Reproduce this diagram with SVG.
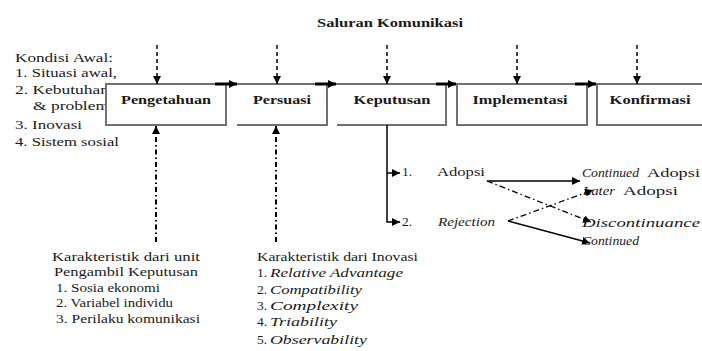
<svg xmlns="http://www.w3.org/2000/svg" width="702" height="351" viewBox="0 0 702 351" font-family="Liberation Serif, DejaVu Serif, serif">
<style>
text{font-size:13.5px;fill:#1a1a1a}
.b{font-weight:bold}
.i{font-style:italic}
.box{fill:none;stroke:#707070;stroke-width:2}
.boxf{fill:#fff;stroke:#707070;stroke-width:2}
.flow{stroke:#000;stroke-width:3;fill:none}
.dash{stroke:#000;stroke-width:1.5;stroke-dasharray:4 3;fill:none}
.dd{stroke:#000;stroke-width:2;stroke-dasharray:5 3 1.5 3;fill:none}
.sl{stroke:#000;stroke-width:1.5;fill:none}
.dd2{stroke:#000;stroke-width:1.3;stroke-dasharray:6 3 1.5 3;fill:none}
</style>
<defs>
<marker id="ah" viewBox="0 0 10 10" refX="10" refY="5" markerWidth="9" markerHeight="8" markerUnits="userSpaceOnUse" orient="auto"><path d="M0,0 L10,5 L0,10 z" fill="#000"/></marker>
<marker id="as" viewBox="0 0 10 10" refX="10" refY="5" markerWidth="8" markerHeight="8" markerUnits="userSpaceOnUse" orient="auto"><path d="M0,0 L10,5 L0,10 z" fill="#000"/></marker>
</defs>

<g id="title"><text class="b" x="317" y="27" textLength="146" lengthAdjust="spacingAndGlyphs">Saluran Komunikasi</text></g>

<g id="kondisi-awal">
<text x="15" y="62" textLength="98" lengthAdjust="spacingAndGlyphs">Kondisi Awal:</text>
<text x="15" y="77" textLength="102" lengthAdjust="spacingAndGlyphs">1. Situasi awal,</text>
<text x="15" y="94" textLength="94" lengthAdjust="spacingAndGlyphs">2. Kebutuhan</text>
<text x="33" y="110" textLength="76" lengthAdjust="spacingAndGlyphs">&amp; problem</text>
<text x="15" y="129" textLength="67" lengthAdjust="spacingAndGlyphs">3. Inovasi</text>
<text x="15" y="146" textLength="104" lengthAdjust="spacingAndGlyphs">4. Sistem sosial</text>
</g>

<g id="pengetahuan">
<rect class="boxf" x="106" y="84" width="120" height="41"/>
<text class="b" x="166" y="104" text-anchor="middle" textLength="90" lengthAdjust="spacingAndGlyphs">Pengetahuan</text>
</g>
<g id="persuasi">
<path class="box" d="M226,84 H327 V125 H237"/>
<text class="b" x="282" y="104" text-anchor="middle" textLength="58" lengthAdjust="spacingAndGlyphs">Persuasi</text>
</g>
<g id="keputusan">
<path class="box" d="M327,84 H446 V125 H337"/>
<text class="b" x="392" y="104" text-anchor="middle" textLength="77" lengthAdjust="spacingAndGlyphs">Keputusan</text>
</g>
<g id="implementasi">
<path class="box" d="M446,84 H587 V125 H457 V84"/>
<text class="b" x="520" y="104" text-anchor="middle" textLength="95" lengthAdjust="spacingAndGlyphs">Implementasi</text>
</g>
<g id="konfirmasi">
<path class="box" d="M587,84 H703 M597,84 V125 H703"/>
<text class="b" x="650" y="104" text-anchor="middle" textLength="81" lengthAdjust="spacingAndGlyphs">Konfirmasi</text>
</g>

<g id="adopsi">
<text x="402" y="176">1.</text>
<text x="437" y="176" textLength="48" lengthAdjust="spacingAndGlyphs">Adopsi</text>
</g>
<g id="rejection">
<text x="402" y="226">2.</text>
<text class="i" x="438" y="226" textLength="57" lengthAdjust="spacingAndGlyphs">Rejection</text>
</g>
<g id="continued-adopsi">
<text class="i" x="582" y="177" textLength="57" lengthAdjust="spacingAndGlyphs">Continued</text>
<text x="647" y="177" textLength="53" lengthAdjust="spacingAndGlyphs">Adopsi</text>
</g>
<g id="later-adopsi">
<text class="i" x="583" y="195" textLength="32" lengthAdjust="spacingAndGlyphs">Later</text>
<text x="623" y="195" textLength="55" lengthAdjust="spacingAndGlyphs">Adopsi</text>
</g>
<g id="discontinuance">
<text class="i" x="582" y="227" textLength="118" lengthAdjust="spacingAndGlyphs">Discontinuance</text>
</g>
<g id="continued">
<text class="i" x="582" y="245" textLength="57" lengthAdjust="spacingAndGlyphs">Continued</text>
</g>

<g id="karakteristik-unit">
<text x="126" y="261" text-anchor="middle" textLength="148" lengthAdjust="spacingAndGlyphs">Karakteristik dari unit</text>
<text x="126" y="276" text-anchor="middle" textLength="144" lengthAdjust="spacingAndGlyphs">Pengambil Keputusan</text>
<text x="56" y="292" textLength="104" lengthAdjust="spacingAndGlyphs">1. Sosia ekonomi</text>
<text x="56" y="307" textLength="117" lengthAdjust="spacingAndGlyphs">2. Variabel individu</text>
<text x="56" y="323" textLength="144" lengthAdjust="spacingAndGlyphs">3. Perilaku komunikasi</text>
</g>

<g id="karakteristik-inovasi">
<text x="257" y="261" textLength="161" lengthAdjust="spacingAndGlyphs">Karakteristik dari Inovasi</text>
<text x="257" y="277">1.</text><text class="i" x="270" y="277" textLength="133" lengthAdjust="spacingAndGlyphs">Relative Advantage</text>
<text x="257" y="294">2.</text><text class="i" x="270" y="294" textLength="92" lengthAdjust="spacingAndGlyphs">Compatibility</text>
<text x="257" y="310">3.</text><text class="i" x="270" y="310" textLength="88" lengthAdjust="spacingAndGlyphs">Complexity</text>
<text x="257" y="326">4.</text><text class="i" x="270" y="326" textLength="67" lengthAdjust="spacingAndGlyphs">Triability</text>
<text x="257" y="344">5.</text><text class="i" x="270" y="344" textLength="97" lengthAdjust="spacingAndGlyphs">Observability</text>
</g>

<g id="connectors">
<path class="flow" d="M215,84 H237" marker-end="url(#ah)"/>
<path class="flow" d="M315,84 H336" marker-end="url(#ah)"/>
<path class="flow" d="M436,84 H456" marker-end="url(#ah)"/>
<path class="flow" d="M575,84 H596" marker-end="url(#ah)"/>

<path class="dash" d="M157,45 V84" marker-end="url(#as)"/>
<path class="dash" d="M277,45 V84" marker-end="url(#as)"/>
<path class="dash" d="M387,45 V84" marker-end="url(#as)"/>
<path class="dash" d="M517,45 V84" marker-end="url(#as)"/>
<path class="dash" d="M637,45 V84" marker-end="url(#as)"/>

<path class="dd" d="M156,242 V126" marker-end="url(#as)"/>
<path class="dd" d="M276,242 V126" marker-end="url(#as)"/>

<path class="sl" d="M387,125 V222 H400" marker-end="url(#as)"/>
<path class="sl" d="M387,173 H400" marker-end="url(#as)"/>

<path class="sl" d="M487,181 H580" marker-end="url(#as)"/>
<path class="dd2" d="M487,181 L591,222" marker-end="url(#as)"/>
<path class="dd2" d="M508,221 L593,190" marker-end="url(#as)"/>
<path class="sl" d="M508,221 L590,243" marker-end="url(#as)"/>
</g>
</svg>
